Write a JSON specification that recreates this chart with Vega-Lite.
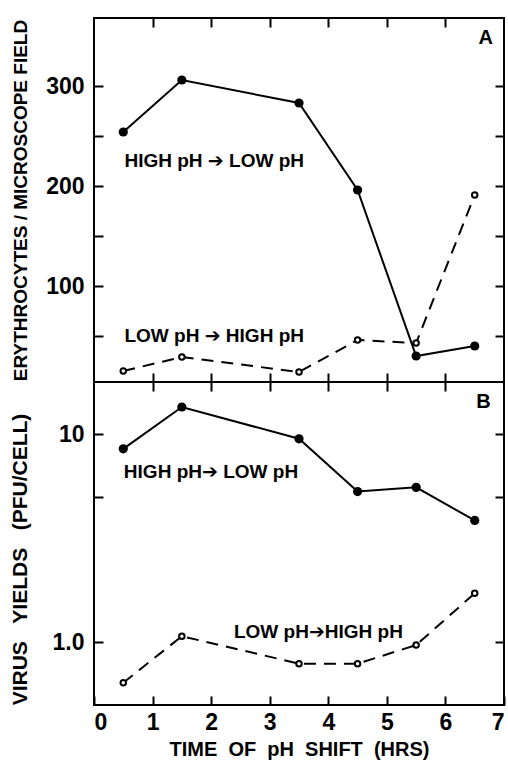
{
  "$schema": "https://vega.github.io/schema/vega-lite/v6.json",
  "autosize": {"type": "pad"},
  "padding": {"left": 8, "top": 16, "right": 0, "bottom": 0},
  "background": "white",
  "spacing": 0,
  "bounds": "flush",
  "config": {
    "view": {"stroke": "black", "strokeWidth": 2},
    "axis": {
      "domain": false,
      "grid": false,
      "tickSize": -9,
      "tickWidth": 2,
      "tickColor": "black",
      "labelFont": "Liberation Sans",
      "labelFontSize": 23,
      "labelFontWeight": "bold",
      "labelColor": "black",
      "labelPadding": 19,
      "titleFont": "Liberation Sans",
      "titleFontSize": 19,
      "titleFontWeight": "bold",
      "titleColor": "black"
    }
  },
  "datasets": {
    "points": [
      {"panel": "A", "series": "high", "time": 0.5, "value": 254},
      {"panel": "A", "series": "high", "time": 1.5, "value": 306},
      {"panel": "A", "series": "high", "time": 3.5, "value": 283},
      {"panel": "A", "series": "high", "time": 4.5, "value": 196},
      {"panel": "A", "series": "high", "time": 5.5, "value": 30},
      {"panel": "A", "series": "high", "time": 6.5, "value": 40},
      {"panel": "A", "series": "low", "time": 0.5, "value": 15},
      {"panel": "A", "series": "low", "time": 1.5, "value": 29},
      {"panel": "A", "series": "low", "time": 3.5, "value": 14},
      {"panel": "A", "series": "low", "time": 4.5, "value": 46},
      {"panel": "A", "series": "low", "time": 5.5, "value": 43},
      {"panel": "A", "series": "low", "time": 6.5, "value": 191},
      {"panel": "B", "series": "high", "time": 0.5, "value": 8.5},
      {"panel": "B", "series": "high", "time": 1.5, "value": 13.5},
      {"panel": "B", "series": "high", "time": 3.5, "value": 9.5},
      {"panel": "B", "series": "high", "time": 4.5, "value": 5.3},
      {"panel": "B", "series": "high", "time": 5.5, "value": 5.55},
      {"panel": "B", "series": "high", "time": 6.5, "value": 3.85},
      {"panel": "B", "series": "low", "time": 0.5, "value": 0.64},
      {"panel": "B", "series": "low", "time": 1.5, "value": 1.07},
      {"panel": "B", "series": "low", "time": 3.5, "value": 0.79},
      {"panel": "B", "series": "low", "time": 4.5, "value": 0.79},
      {"panel": "B", "series": "low", "time": 5.5, "value": 0.97},
      {"panel": "B", "series": "low", "time": 6.5, "value": 1.72}
    ],
    "notes": [
      {"panel": "A", "kind": "label", "time": 0.52, "value": 225, "text": "HIGH pH ➔ LOW pH"},
      {"panel": "A", "kind": "label", "time": 0.52, "value": 50, "text": "LOW pH ➔ HIGH pH"},
      {"panel": "A", "kind": "letter", "time": 6.69, "value": 348, "text": "A"},
      {"panel": "B", "kind": "label", "time": 0.51, "value": 6.56, "text": "HIGH pH➔ LOW pH"},
      {"panel": "B", "kind": "label", "time": 2.39, "value": 1.12, "text": "LOW pH➔HIGH pH"},
      {"panel": "B", "kind": "letter", "time": 6.65, "value": 14.2, "text": "B"}
    ]
  },
  "vconcat": [
    {
      "width": 410,
      "height": 364,
      "resolve": {"axis": {"x": "independent", "y": "independent"}},
      "layer": [
        {
          "data": {"name": "points"},
          "transform": [{"filter": "datum.panel == 'A' && datum.series == 'high'"}],
          "mark": {"type": "line", "color": "black", "strokeWidth": 2},
          "encoding": {
            "x": {"field": "time", "type": "quantitative", "scale": {"domain": [0, 7], "nice": false},
                  "axis": {"orient": "bottom", "values": [1, 2, 3, 4, 5, 6], "labels": false, "title": null}},
            "y": {"field": "value", "type": "quantitative", "scale": {"domain": [4, 368], "nice": false, "zero": false},
                  "axis": {"orient": "left", "values": [50, 100, 150, 200, 250, 300],
                           "labelExpr": "datum.value % 100 == 0 ? datum.label : ''",
                           "title": "ERYTHROCYTES / MICROSCOPE FIELD", "titleX": -64, "titleY": 182}}
          }
        },
        {
          "data": {"name": "points"},
          "transform": [{"filter": "datum.panel == 'A' && datum.series == 'high'"}],
          "mark": {"type": "point", "filled": true, "color": "black", "size": 85, "opacity": 1},
          "encoding": {
            "x": {"field": "time", "type": "quantitative", "axis": null},
            "y": {"field": "value", "type": "quantitative", "axis": null}
          }
        },
        {
          "data": {"name": "points"},
          "transform": [{"filter": "datum.panel == 'A' && datum.series == 'low'"}],
          "mark": {"type": "line", "color": "black", "strokeWidth": 2, "strokeDash": [12, 8]},
          "encoding": {
            "x": {"field": "time", "type": "quantitative", "axis": null},
            "y": {"field": "value", "type": "quantitative", "axis": null}
          }
        },
        {
          "data": {"name": "points"},
          "transform": [{"filter": "datum.panel == 'A' && datum.series == 'low'"}],
          "mark": {"type": "point", "filled": false, "fill": "white", "stroke": "black", "strokeWidth": 2, "size": 30, "opacity": 1},
          "encoding": {
            "x": {"field": "time", "type": "quantitative", "axis": null},
            "y": {"field": "value", "type": "quantitative", "axis": null}
          }
        },
        {
          "data": {"name": "notes"},
          "transform": [{"filter": "datum.panel == 'A' && datum.kind == 'label'"}],
          "mark": {"type": "text", "align": "left", "baseline": "middle", "font": "Liberation Sans, DejaVu Sans", "fontWeight": "bold", "fontSize": 19, "color": "black"},
          "encoding": {
            "x": {"field": "time", "type": "quantitative", "axis": null},
            "y": {"field": "value", "type": "quantitative", "axis": null},
            "text": {"field": "text"}
          }
        },
        {
          "data": {"name": "notes"},
          "transform": [{"filter": "datum.panel == 'A' && datum.kind == 'letter'"}],
          "mark": {"type": "text", "align": "center", "baseline": "middle", "font": "Liberation Sans", "fontWeight": "bold", "fontSize": 20, "color": "black"},
          "encoding": {
            "x": {"field": "time", "type": "quantitative", "axis": null},
            "y": {"field": "value", "type": "quantitative", "axis": null},
            "text": {"field": "text"}
          }
        },
        {
          "data": {"name": "points"},
          "transform": [{"filter": "datum.panel == 'A'"}],
          "mark": {"type": "point", "opacity": 0},
          "encoding": {
            "x": {"field": "time", "type": "quantitative",
                  "axis": {"orient": "top", "values": [1, 2, 3, 4, 5, 6], "labels": false, "title": null}},
            "y": {"field": "value", "type": "quantitative",
                  "axis": {"orient": "right", "values": [50, 100, 150, 200, 250, 300], "labels": false, "title": null}}
          }
        }
      ]
    },
    {
      "width": 410,
      "height": 323,
      "resolve": {"axis": {"x": "independent", "y": "independent"}},
      "layer": [
        {
          "data": {"name": "points"},
          "transform": [{"filter": "datum.panel == 'B' && datum.series == 'high'"}],
          "mark": {"type": "line", "color": "black", "strokeWidth": 2},
          "encoding": {
            "x": {"field": "time", "type": "quantitative", "scale": {"domain": [0, 7], "nice": false},
                  "axis": {"orient": "bottom", "values": [0, 1, 2, 3, 4, 5, 6, 7], "labelPadding": 15, "title": "TIME\u00a0\u00a0OF\u00a0\u00a0pH\u00a0\u00a0SHIFT\u00a0\u00a0(HRS)", "titleFontSize": 20, "titlePadding": 5}},
            "y": {"field": "value", "type": "quantitative", "scale": {"type": "log", "domain": [0.5, 17.8], "nice": false},
                  "axis": {"orient": "left", "values": [1, 5, 10],
                           "labelExpr": "datum.value == 1 ? '1.0' : datum.value == 10 ? '10' : ''",
                           "title": "VIRUS\u00a0\u00a0\u00a0YIELDS\u00a0\u00a0\u00a0(PFU/CELL)", "titleFontSize": 21, "titleX": -64, "titleY": 177}}
          }
        },
        {
          "data": {"name": "points"},
          "transform": [{"filter": "datum.panel == 'B' && datum.series == 'high'"}],
          "mark": {"type": "point", "filled": true, "color": "black", "size": 85, "opacity": 1},
          "encoding": {
            "x": {"field": "time", "type": "quantitative", "axis": null},
            "y": {"field": "value", "type": "quantitative", "axis": null}
          }
        },
        {
          "data": {"name": "points"},
          "transform": [{"filter": "datum.panel == 'B' && datum.series == 'low'"}],
          "mark": {"type": "line", "color": "black", "strokeWidth": 2, "strokeDash": [12, 8]},
          "encoding": {
            "x": {"field": "time", "type": "quantitative", "axis": null},
            "y": {"field": "value", "type": "quantitative", "axis": null}
          }
        },
        {
          "data": {"name": "points"},
          "transform": [{"filter": "datum.panel == 'B' && datum.series == 'low'"}],
          "mark": {"type": "point", "filled": false, "fill": "white", "stroke": "black", "strokeWidth": 2, "size": 30, "opacity": 1},
          "encoding": {
            "x": {"field": "time", "type": "quantitative", "axis": null},
            "y": {"field": "value", "type": "quantitative", "axis": null}
          }
        },
        {
          "data": {"name": "notes"},
          "transform": [{"filter": "datum.panel == 'B' && datum.kind == 'label'"}],
          "mark": {"type": "text", "align": "left", "baseline": "middle", "font": "Liberation Sans, DejaVu Sans", "fontWeight": "bold", "fontSize": 19, "color": "black"},
          "encoding": {
            "x": {"field": "time", "type": "quantitative", "axis": null},
            "y": {"field": "value", "type": "quantitative", "axis": null},
            "text": {"field": "text"}
          }
        },
        {
          "data": {"name": "notes"},
          "transform": [{"filter": "datum.panel == 'B' && datum.kind == 'letter'"}],
          "mark": {"type": "text", "align": "center", "baseline": "middle", "font": "Liberation Sans", "fontWeight": "bold", "fontSize": 20, "color": "black"},
          "encoding": {
            "x": {"field": "time", "type": "quantitative", "axis": null},
            "y": {"field": "value", "type": "quantitative", "axis": null},
            "text": {"field": "text"}
          }
        },
        {
          "data": {"name": "points"},
          "transform": [{"filter": "datum.panel == 'B'"}],
          "mark": {"type": "point", "opacity": 0},
          "encoding": {
            "x": {"field": "time", "type": "quantitative",
                  "axis": {"orient": "top", "values": [1, 2, 3, 4, 5, 6], "labels": false, "title": null}},
            "y": {"field": "value", "type": "quantitative",
                  "axis": {"orient": "right", "values": [1, 5, 10], "labels": false, "title": null}}
          }
        }
      ]
    }
  ]
}
